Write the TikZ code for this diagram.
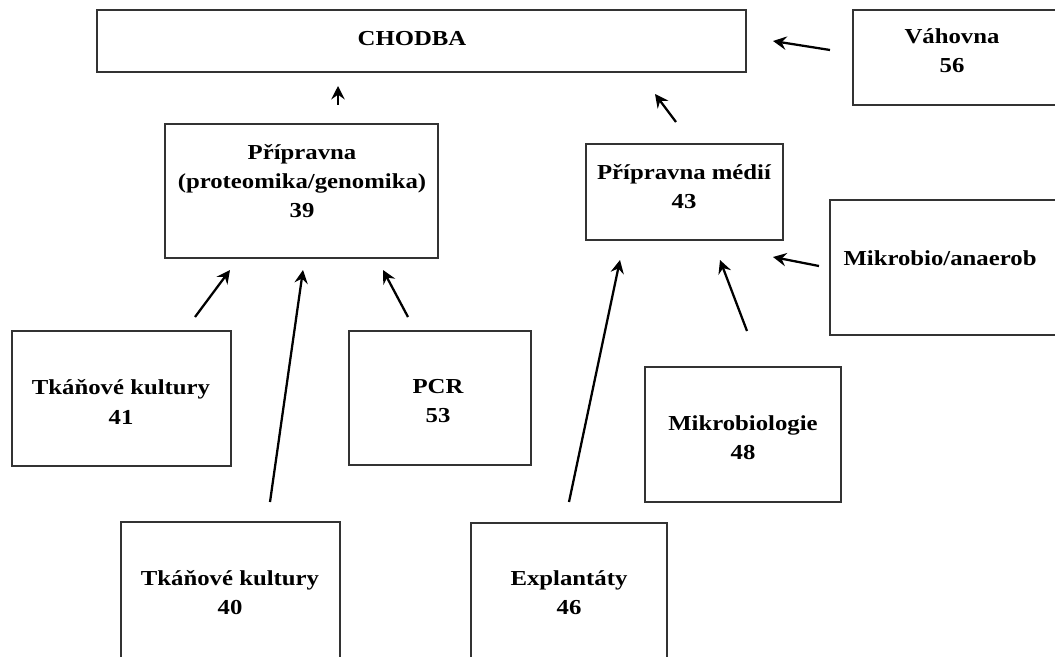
\documentclass[tikz,border=0pt]{standalone}
\usepackage{fontspec}
\setmainfont[FakeStretch=1.16]{Liberation Serif}
\usetikzlibrary{arrows.meta}
\begin{document}
\begin{tikzpicture}[x=0.75pt,y=-0.75pt,
  room/.style={draw=black!80, line width=1.5pt, fill=none},
  lbl/.style={font=\fontsize{16}{21.8}\selectfont\bfseries, align=center, inner sep=0pt},
  conn/.style={line width=1.7pt, -{Stealth[length=10pt,width=10pt,inset=3.5pt]}}]
\useasboundingbox (0,0) rectangle (1055,656);
% boxes
\path[room] (97,10) rectangle (746,72);
\node[lbl] (chodba) at (412,39) {CHODBA};
\path[room] (853,10) rectangle (1070,105);
\node[lbl] (vah) at (952,51) {Váhovna\\56};
\path[room] (165,124) rectangle (438,258);
\node[lbl] (p39) at (302,181) {Přípravna\\(proteomika/genomika)\\39};
\path[room] (586,144) rectangle (783,240);
\node[lbl] (p43) at (684,187) {Přípravna médií\\43};
\path[room] (830,200) rectangle (1070,335);
\node[lbl] (anae) at (940,258) {Mikrobio/anaerob};
\path[room] (12,331) rectangle (231,466);
\node[lbl] (t41) at (121,402) {Tkáňové kultury\\41};
\path[room] (349,331) rectangle (531,465);
\node[lbl] (pcr) at (438,401) {PCR\\53};
\path[room] (645,367) rectangle (841,502);
\node[lbl] (m48) at (743,438) {Mikrobiologie\\48};
\path[room] (121,522) rectangle (340,670);
\node[lbl] (t40) at (230,593) {Tkáňové kultury\\40};
\path[room] (471,523) rectangle (667,670);
\node[lbl] (e46) at (569,593) {Explantáty\\46};
% arrow end points
\coordinate (a1s) at (830,50);  \coordinate (a1e) at (773,41);
\coordinate (a2s) at (338,105); \coordinate (a2e) at (338,86);
\coordinate (a3s) at (676,122); \coordinate (a3e) at (655,94);
\coordinate (a4s) at (195,317); \coordinate (a4e) at (230,270);
\coordinate (a5s) at (270,502); \coordinate (a5e) at (303,270);
\coordinate (a6s) at (408,317); \coordinate (a6e) at (383,270);
\coordinate (a7s) at (569,502); \coordinate (a7e) at (620,260);
\coordinate (a8s) at (747,331); \coordinate (a8e) at (720,260);
\coordinate (a9s) at (819,266); \coordinate (a9e) at (773,257);
\draw[conn] (a1s) -- (a1e);
\draw[conn] (a2s) -- (a2e);
\draw[conn] (a3s) -- (a3e);
\draw[conn] (a4s) -- (a4e);
\draw[conn] (a5s) -- (a5e);
\draw[conn] (a6s) -- (a6e);
\draw[conn] (a7s) -- (a7e);
\draw[conn] (a8s) -- (a8e);
\draw[conn] (a9s) -- (a9e);
\end{tikzpicture}
\end{document}
